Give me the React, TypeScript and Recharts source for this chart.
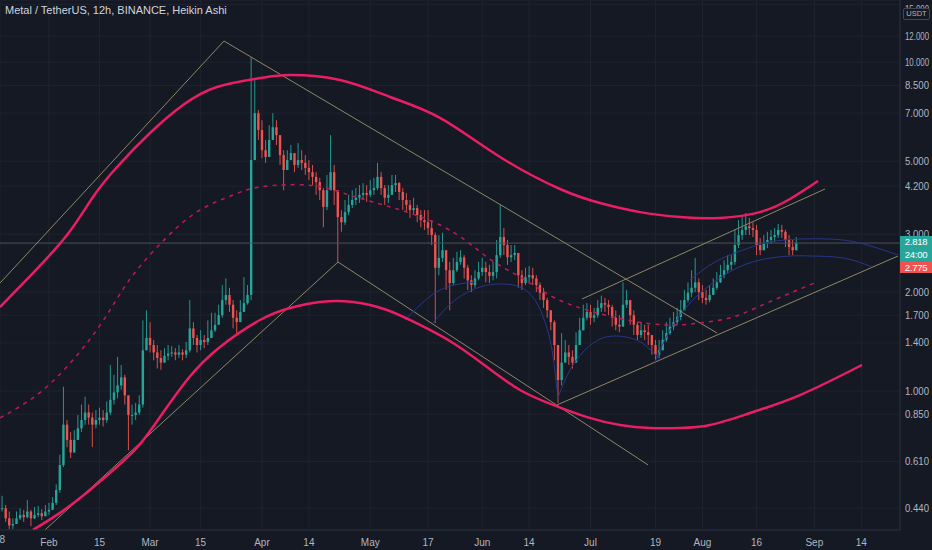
import React from "react";
import { ComposedChart, Bar, Line, XAxis, YAxis, CartesianGrid, ReferenceLine } from "recharts";

// Day numbers count from Jan 1 = 0 (so Feb 1 = 31). One candle per day, [high, low, close].
const janStart = 18;
const janCandles = [
  [0.48, 0.43, 0.44], [0.45, 0.4, 0.41], [0.43, 0.38, 0.39], [0.41, 0.38, 0.394], [0.43, 0.394, 0.41],
  [0.44, 0.405, 0.42], [0.435, 0.4, 0.413], [0.466, 0.41, 0.43], [0.435, 0.388, 0.41], [0.444, 0.408, 0.42],
  [0.447, 0.413, 0.425], [0.437, 0.405, 0.416], [0.45, 0.416, 0.43],
];
const febStart = 31;
const febCandles = [
  [0.457, 0.42, 0.435], [0.475, 0.435, 0.457], [0.52, 0.45, 0.5], [0.64, 0.49, 0.595], [1.03, 0.587, 0.79],
  [0.816, 0.675, 0.71], [0.75, 0.625, 0.65], [0.76, 0.65, 0.71], [0.845, 0.71, 0.77], [0.91, 0.75, 0.816],
  [0.96, 0.79, 0.86], [0.91, 0.79, 0.83], [0.86, 0.675, 0.79], [0.875, 0.77, 0.816], [0.89, 0.79, 0.83],
  [0.875, 0.78, 0.816], [0.93, 0.8, 0.86], [1.2, 0.845, 0.94], [1.12, 0.91, 0.99], [1.27, 0.95, 1.04],
  [1.2, 1.01, 1.1], [1.12, 0.91, 0.97], [0.97, 0.66, 0.845], [0.91, 0.79, 0.845], [0.92, 0.816, 0.86],
  [0.97, 0.845, 0.91], [1.64, 0.89, 1.33], [1.76, 1.33, 1.45],
];
const marStart = 59;
const marCandles = [
  [1.62, 1.31, 1.38], [1.43, 1.24, 1.31], [1.38, 1.17, 1.26], [1.33, 1.16, 1.22], [1.35, 1.22, 1.28],
  [1.38, 1.24, 1.3], [1.37, 1.27, 1.31], [1.35, 1.24, 1.29], [1.38, 1.26, 1.31], [1.34, 1.24, 1.29],
  [1.41, 1.26, 1.33], [1.89, 1.31, 1.55], [1.62, 1.38, 1.45], [1.48, 1.31, 1.38], [1.53, 1.33, 1.43],
  [1.48, 1.35, 1.41], [1.64, 1.38, 1.45], [1.73, 1.45, 1.53], [1.73, 1.51, 1.59], [1.83, 1.59, 1.7],
  [2.1, 1.67, 1.89], [2.2, 1.83, 1.96], [2.06, 1.74, 1.83], [1.89, 1.55, 1.67], [1.76, 1.5, 1.62],
  [1.89, 1.62, 1.74], [2.22, 1.76, 1.85], [2.1, 1.83, 1.96], [10.36, 1.89, 5.04], [8.82, 5.4, 7.0],
  [7.15, 5.8, 6.22],
];
const aprStart = 90;
const aprCandles = [
  [6.66, 5.11, 5.4], [5.8, 4.94, 5.15], [6.43, 5.15, 5.8], [7.0, 5.88, 6.34], [6.66, 5.6, 6.0],
  [6.0, 4.87, 5.22], [5.4, 4.08, 4.7], [5.4, 4.77, 5.04], [5.6, 5.04, 5.29], [5.22, 4.63, 4.87],
  [5.68, 4.77, 5.04], [5.4, 4.7, 4.94], [5.22, 4.54, 4.77], [5.04, 4.38, 4.63], [4.87, 4.23, 4.48],
  [4.63, 3.95, 4.32], [4.45, 3.81, 4.08], [4.14, 3.15, 3.63], [4.54, 3.55, 4.08], [6.0, 4.08, 4.63],
  [4.87, 3.68, 4.08], [3.95, 2.45, 3.38], [3.55, 3.05, 3.26], [3.81, 3.2, 3.5], [3.95, 3.43, 3.68],
  [4.08, 3.6, 3.81], [4.14, 3.68, 3.87], [4.23, 3.73, 3.95], [4.29, 3.81, 4.0], [4.23, 3.76, 3.95],
];
const mayStart = 120;
const mayCandles = [
  [4.38, 3.89, 4.08], [4.45, 3.95, 4.14], [4.94, 4.08, 4.48], [4.63, 3.95, 4.14], [4.23, 3.68, 3.87],
  [4.23, 3.73, 3.95], [4.54, 3.95, 4.23], [4.54, 4.03, 4.29], [4.32, 3.81, 4.03], [4.14, 3.55, 3.81],
  [4.0, 3.5, 3.68], [3.81, 3.36, 3.55], [3.87, 3.43, 3.6], [3.68, 3.26, 3.43], [3.55, 3.15, 3.31],
  [3.55, 3.09, 3.26], [3.55, 2.98, 3.13], [3.31, 2.78, 2.98], [3.03, 1.61, 2.37], [2.98, 2.25, 2.54],
  [3.03, 2.47, 2.68], [2.68, 2.03, 2.33], [2.47, 1.76, 2.13], [2.54, 2.1, 2.33], [2.65, 2.3, 2.47],
  [2.68, 2.42, 2.55], [2.59, 2.2, 2.37], [2.42, 2.03, 2.17], [2.25, 2.0, 2.1], [2.33, 2.06, 2.2],
  [2.47, 2.17, 2.3],
];
const junStart = 151;
const junCandles = [
  [2.54, 2.24, 2.37], [2.47, 2.14, 2.3], [2.42, 2.13, 2.24], [2.47, 2.17, 2.3], [2.88, 2.2, 2.59],
  [3.68, 2.54, 2.94], [3.13, 2.59, 2.78], [2.88, 2.42, 2.55], [2.78, 2.47, 2.59], [2.78, 2.5, 2.63],
  [2.59, 2.06, 2.25], [2.33, 2.03, 2.13], [2.37, 2.1, 2.22], [2.4, 2.14, 2.25], [2.37, 2.1, 2.2],
  [2.25, 2.0, 2.1], [2.14, 1.89, 1.99], [2.06, 1.79, 1.89], [1.92, 1.67, 1.76], [1.76, 1.53, 1.62],
  [1.64, 1.24, 1.38], [1.38, 0.92, 1.08], [1.5, 1.04, 1.22], [1.43, 1.22, 1.31], [1.38, 1.2, 1.27],
  [1.33, 1.17, 1.22], [1.51, 1.22, 1.38], [1.67, 1.38, 1.53], [1.83, 1.53, 1.67], [1.85, 1.64, 1.74],
];
const julStart = 181;
const julCandles = [
  [1.83, 1.59, 1.67], [1.79, 1.62, 1.7], [1.89, 1.67, 1.79], [1.95, 1.74, 1.85], [1.92, 1.74, 1.83],
  [1.89, 1.7, 1.8], [1.83, 1.57, 1.67], [1.76, 1.53, 1.59], [1.7, 1.51, 1.57], [2.14, 1.64, 1.83],
  [2.03, 1.79, 1.89], [1.89, 1.59, 1.7], [1.76, 1.48, 1.59], [1.62, 1.43, 1.48], [1.62, 1.45, 1.53],
  [1.59, 1.43, 1.51], [1.59, 1.38, 1.48], [1.48, 1.29, 1.38], [1.43, 1.24, 1.29], [1.43, 1.26, 1.33],
  [1.53, 1.33, 1.43], [1.62, 1.41, 1.5], [1.67, 1.48, 1.57], [1.74, 1.53, 1.62], [1.79, 1.59, 1.68],
  [1.89, 1.64, 1.76], [2.03, 1.76, 1.89], [2.14, 1.86, 1.99], [2.33, 1.93, 2.06], [2.54, 2.0, 2.14],
  [2.2, 1.89, 2.0],
];
const augStart = 212;
const augCandles = [
  [2.1, 1.85, 1.92], [2.03, 1.83, 1.89], [2.1, 1.86, 1.96], [2.2, 1.96, 2.06], [2.3, 2.03, 2.14],
  [2.42, 2.13, 2.25], [2.5, 2.2, 2.33], [2.59, 2.28, 2.42], [2.59, 2.33, 2.47], [3.09, 2.42, 2.78],
  [3.31, 2.72, 2.98], [3.43, 2.88, 3.09], [3.48, 2.98, 3.17], [3.36, 2.98, 3.13], [3.26, 2.94, 3.09],
  [3.2, 2.59, 2.78], [2.92, 2.59, 2.68], [2.98, 2.68, 2.82], [3.05, 2.72, 2.88], [3.09, 2.8, 2.94],
  [3.13, 2.84, 2.98], [3.22, 2.92, 3.09], [3.2, 2.92, 3.05], [3.09, 2.74, 2.88], [2.98, 2.59, 2.74],
  [2.88, 2.59, 2.68], [2.94, 2.68, 2.82],
];

// drawings, [day, price]
const upperBand = [
  [17.43, 1.8], [26.57, 2.285], [35.99, 2.98], [43.19, 3.89], [49.84, 4.8], [58.98, 6.09], [68.12, 7.41],
  [77.54, 8.41], [89.45, 8.95], [97.76, 9.14], [111.61, 8.83], [125.46, 7.84], [139.31, 6.77], [155.93, 5.15],
  [172.55, 4.115], [183.63, 3.73], [194.71, 3.5], [205.79, 3.382], [216.87, 3.36], [227.95, 3.5],
  [236.26, 3.836], [244.02, 4.35],
];
const lowerBand = [
  [26.57, 0.378], [34.05, 0.426], [42.36, 0.5], [53.44, 0.639], [59.81, 0.777], [69.23, 1.08], [78.37, 1.361],
  [89.45, 1.644], [97.76, 1.788], [106.07, 1.865], [115.21, 1.865], [124.63, 1.763], [133.77, 1.588],
  [142.91, 1.4], [152.33, 1.183], [161.47, 1.007], [170.61, 0.907], [180.03, 0.833], [189.17, 0.788],
  [197.48, 0.772], [205.79, 0.772], [214.1, 0.788], [225.18, 0.857], [239.03, 0.972], [256.21, 1.2],
];
const midBand = [
  [17.43, 0.828], [29.34, 1.007], [40.42, 1.351], [47.9, 1.763], [54.27, 2.253], [63.69, 2.94], [72.83, 3.552],
  [81.97, 3.945], [89.45, 4.173], [102.47, 4.232], [111.61, 4.029], [120.75, 3.757], [139.31, 3.198],
  [152.33, 2.556], [161.47, 2.222], [170.61, 1.932], [180.03, 1.763], [191.11, 1.644], [202.19, 1.588],
  [211.33, 1.61], [220.47, 1.679], [229.89, 1.852], [243.74, 2.146],
];
const trendLines = [
  [[17.43, 2.13], [79.48, 11.6], [216.04, 1.501]],
  [[29.89, 0.378], [111.06, 2.468], [196.93, 0.596]],
  [[171.72, 0.907], [266.18, 2.574]],
  [[178.65, 1.905], [245.96, 4.115]],
];
const arcs = [
  [[137.37, 1.61], [143.47, 1.891], [150.39, 2.072], [155.93, 2.116], [161.47, 2.072], [165.63, 1.891],
    [168.4, 1.621], [170.34, 1.333], [171.72, 1.007]],
  [[129.61, 1.644], [135.99, 1.918], [142.08, 2.086], [149.0, 2.146]],
  [[171.72, 0.939], [175.32, 1.158], [179.48, 1.333], [183.63, 1.439], [187.79, 1.47], [191.94, 1.45],
    [196.1, 1.38], [200.25, 1.242]],
  [[198.86, 1.225], [203.02, 1.533], [208.56, 1.852], [214.1, 2.1], [220.47, 2.333], [227.95, 2.503],
    [236.26, 2.574], [241.8, 2.574], [250.95, 2.538], [258.98, 2.383]],
  [[208.56, 2.176], [215.49, 2.468], [223.24, 2.684], [230.72, 2.839], [239.03, 2.899], [247.35, 2.899],
    [255.65, 2.819], [266.18, 2.592]],
];

const lastPrice = 2.818;
const priceTicks = [0.44, 0.52, 0.61, 0.73, 0.85, 1, 1.2, 1.4, 1.7, 2, 3, 3.6, 4.2, 5, 6, 7, 8.5, 10, 12, 15];
const dateTickDays = [17, 31, 45, 59, 73, 90, 103, 120, 136, 151, 164, 181, 199, 212, 227, 243, 256];
const dateTickLabels = ["18", "Feb", "15", "Mar", "15", "Apr", "14", "May", "17", "Jun", "14", "Jul", "19", "Aug", "16", "Sep", "14"];

const GREEN = "#26a69a";
const RED = "#ef5350";
const BG = "#151924";
const FONT = "'Liberation Sans', Arial, sans-serif";

const monthBlocks: [number, number[][]][] = [
  [janStart, janCandles], [febStart, febCandles], [marStart, marCandles], [aprStart, aprCandles],
  [mayStart, mayCandles], [junStart, junCandles], [julStart, julCandles], [augStart, augCandles],
];

const rows = monthBlocks.flatMap(([start, list]) =>
  list.map(([high, low, close], i) => ({ day: start + i, high, low, close }))
);
const candles = rows.map((r, i) => {
  const open = i === 0 ? r.close : rows[i - 1].close;
  const high = Math.max(r.high, open, r.close);
  const low = Math.min(r.low, open, r.close);
  return { day: r.day, open, close: r.close, high, low, range: [low, high] };
});

const toPoints = (list: number[][]) => list.map(([day, price]) => ({ day, price }));

// eslint-disable-next-line @typescript-eslint/no-explicit-any
const CandleShape = (props: any) => {
  const { x, y, width, height, payload } = props;
  if (!payload || x == null || y == null) return <g />;
  const top = Math.min(y, y + height);
  const bot = Math.max(y, y + height);
  const { open, close, high, low } = payload;
  const span = Math.log(high) - Math.log(low);
  const toY = (v: number) => (span > 0 ? top + ((Math.log(high) - Math.log(v)) / span) * (bot - top) : top);
  const bTop = toY(Math.max(open, close));
  const bBot = toY(Math.min(open, close));
  const color = close >= open ? GREEN : RED;
  const cx = x + width / 2;
  const bw = 2.4;
  return (
    <g>
      <line x1={cx} x2={cx} y1={top} y2={bot} stroke={color} strokeWidth={0.9} />
      <rect x={cx - bw / 2} y={bTop} width={bw} height={Math.max(1, bBot - bTop)} fill={color} />
    </g>
  );
};

// eslint-disable-next-line @typescript-eslint/no-explicit-any
const PriceTick = (props: any) => {
  const { x, y, payload } = props;
  return (
    <text x={x} y={y} dy={3.5} fill="#b2b5be" fontSize={10} fontFamily={FONT} textAnchor="start"
      textLength={24} lengthAdjust="spacingAndGlyphs">
      {Number(payload.value).toFixed(3)}
    </text>
  );
};

// eslint-disable-next-line @typescript-eslint/no-explicit-any
const DateTick = (props: any) => {
  const { x, y, payload } = props;
  const idx = dateTickDays.indexOf(payload.value);
  return (
    <text x={x} y={y} dy={14} fill="#b2b5be" fontSize={10} fontFamily={FONT} textAnchor="middle">
      {idx >= 0 ? dateTickLabels[idx] : ""}
    </text>
  );
};

export default function App() {
  return (
    <div style={{ position: "absolute", left: 0, top: 0, width: 932, height: 550, background: BG, overflow: "hidden" }}>
      <ComposedChart width={932} height={550} data={candles} margin={{ top: 0, right: 0, bottom: 0, left: 0 }}>
        <CartesianGrid stroke="#1f2330" strokeWidth={1} />
        <XAxis
          dataKey="day"
          type="number"
          domain={[17.43, 266.73]}
          allowDataOverflow
          ticks={dateTickDays}
          tick={DateTick}
          tickLine={false}
          tickSize={0}
          axisLine={{ stroke: "#2a2e39" }}
          height={20}
        />
        <YAxis
          orientation="right"
          type="number"
          scale="log"
          domain={[0.3778, 15.46]}
          allowDataOverflow
          ticks={priceTicks}
          tick={PriceTick}
          tickLine={false}
          tickSize={0}
          tickMargin={5}
          axisLine={{ stroke: "#2a2e39" }}
          width={32}
        />
        <ReferenceLine y={lastPrice} stroke="#4c505b" strokeWidth={1} />
        <Bar dataKey="range" barSize={3} shape={CandleShape} isAnimationActive={false} />
        {trendLines.map((pts, i) => (
          <Line
            key={`t${i}`}
            data={toPoints(pts)}
            dataKey="price"
            type="linear"
            stroke="#8e8763"
            strokeWidth={1}
            dot={false}
            isAnimationActive={false}
          />
        ))}
        {arcs.map((pts, i) => (
          <Line
            key={`a${i}`}
            data={toPoints(pts)}
            dataKey="price"
            type="natural"
            stroke="#283689"
            strokeWidth={1}
            dot={false}
            isAnimationActive={false}
          />
        ))}
        <Line data={toPoints(midBand)} dataKey="price" type="natural" stroke="#c2185b" strokeWidth={1.5}
          strokeDasharray="4 5" dot={false} isAnimationActive={false} />
        <Line data={toPoints(upperBand)} dataKey="price" type="natural" stroke="#e91e63" strokeWidth={2.5}
          dot={false} isAnimationActive={false} />
        <Line data={toPoints(lowerBand)} dataKey="price" type="natural" stroke="#e91e63" strokeWidth={2.5}
          dot={false} isAnimationActive={false} />
      </ComposedChart>

      <div style={{ position: "absolute", left: 5, top: 4, color: "#d1d4dc", fontSize: 11, fontFamily: FONT }}>
        Metal / TetherUS, 12h, BINANCE, Heikin Ashi
      </div>
      <div style={{ position: "absolute", left: -6, top: 534, color: "#b2b5be", fontSize: 10, fontFamily: FONT }}>
        18
      </div>
      <div style={{
        position: "absolute", left: 903, top: 8, width: 25, height: 10, border: "1px solid #434651", borderRadius: 2,
        background: BG, color: "#b2b5be", fontSize: 7.5, lineHeight: "10px", textAlign: "center", fontFamily: FONT,
      }}>
        USDT
      </div>
      <div style={{
        position: "absolute", left: 900, top: 236, width: 32, height: 26, background: GREEN, color: "#ffffff",
        fontSize: 9.5, lineHeight: "12.5px", textAlign: "center", fontFamily: FONT, letterSpacing: -0.3,
      }}>
        <div>{lastPrice.toFixed(3)}</div>
        <div>24:00</div>
      </div>
      <div style={{
        position: "absolute", left: 900, top: 262, width: 32, height: 11, background: RED, color: "#ffffff",
        fontSize: 9.5, lineHeight: "11px", textAlign: "center", fontFamily: FONT, letterSpacing: -0.3,
      }}>
        2.775
      </div>
    </div>
  );
}
